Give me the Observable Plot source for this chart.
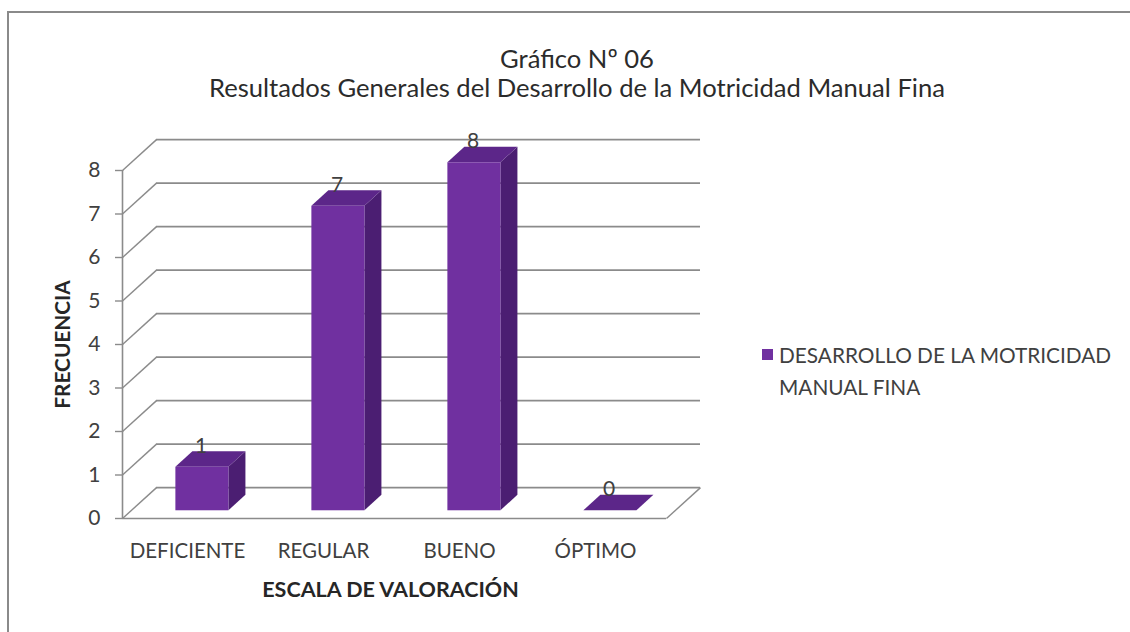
<!DOCTYPE html>
<html>
<head>
<meta charset="utf-8">
<script src="https://cdn.jsdelivr.net/npm/d3@7"></script>
<script src="https://cdn.jsdelivr.net/npm/@observablehq/plot@0.6"></script>
<style>
  html, body { margin: 0; padding: 0; background: #fff; overflow: hidden; }
  #wrap { position: relative; width: 1130px; height: 632px; overflow: hidden; font-family: Lato, "Open Sans", sans-serif; color: #2b2b2b; }
  #frame { position: absolute; left: 7px; top: 11px; width: 1200px; height: 700px; border-top: 2px solid #8a8a8a; border-left: 2px solid #8a8a8a; }
  .title { position: absolute; left: 0; width: 1154px; text-align: center; white-space: nowrap; font-size: 25.6px; line-height: 30px; }
  #t1 { top: 43px; }
  #t2 { top: 72px; }
  #chart { position: absolute; left: 0; top: 120px; }
  #legend { position: absolute; left: 762px; top: 339px; font-size: 20.8px; line-height: 32px; color: #404040; }
  #legend .sw { position: absolute; left: 0; top: 10px; width: 11px; height: 11px; }
  #legend .lt { margin-left: 17px; white-space: nowrap; }
</style>
</head>
<body>
<div id="wrap">
  <div id="frame"></div>
  <div class="title" id="t1"></div>
  <div class="title" id="t2"></div>
  <div id="chart"></div>
  <div id="legend"><div class="sw"></div><div class="lt" id="l1"></div><div class="lt" id="l2"></div></div>
</div>
<script>
// ---- data ----
const categories = ["DEFICIENTE", "REGULAR", "BUENO", "ÓPTIMO"];
const frecuencia = [1, 7, 8, 0];
const yTicks = [0, 1, 2, 3, 4, 5, 6, 7, 8];
const titleLine1 = "Gráfico Nº 06";
const titleLine2 = "Resultados Generales del Desarrollo de la Motricidad Manual Fina";
const yLabel = "FRECUENCIA";
const xLabel = "ESCALA DE VALORACIÓN";
const seriesLine1 = "DESARROLLO DE LA MOTRICIDAD";
const seriesLine2 = "MANUAL FINA";

// ---- style / 3D geometry (in data units) ----
const C_FRONT = "#7030a0", C_SIDE = "#4b1e72", C_TOP = "#5c2689";
const GRID = "#8b8b8b";
const DX = 0.25, DY = 0.71;      // full floor depth offset
const HW = 0.195;                // half bar width
const F0 = 0.25, F1 = 0.75;      // bar front / back depth fractions
const BX = 0.025;                // small perspective shift of bars

document.getElementById("t1").textContent = titleLine1;
document.getElementById("t2").textContent = titleLine2;
document.getElementById("l1").textContent = seriesLine1;
document.getElementById("l2").textContent = seriesLine2;
document.querySelector("#legend .sw").style.background = C_FRONT;

const bars = categories.map((c, i) => ({cat: c, c: i + 0.5 + BX, v: frecuencia[i]}));
const sides = bars.flatMap(b => [F0, F1].map(f => ({cat: b.cat, x: b.c + HW + f * DX, y1: f * DY, y2: b.v + f * DY})));
const tops = bars.flatMap(b => [F0, F1].map(f => ({cat: b.cat, y: b.v + f * DY, x1: b.c - HW + f * DX, x2: b.c + HW + f * DX})));

const plot = Plot.plot({
  width: 1130,
  height: 512,
  marginLeft: 122,
  marginRight: 464,
  marginTop: 50,
  marginBottom: 114,
  style: {fontFamily: "Lato, 'Open Sans', sans-serif", color: "#404040", background: "transparent", overflow: "visible"},
  x: {type: "linear", domain: [0, categories.length], axis: null},
  y: {type: "linear", domain: [0, 8], axis: null},
  marks: [
    // back wall gridlines
    Plot.ruleY(yTicks, {y: d => d + DY, x1: DX, x2: categories.length + DX, stroke: GRID, strokeWidth: 1.6}),
    // left wall diagonals
    Plot.link(yTicks, {x1: 0, y1: d => d, x2: DX, y2: d => d + DY, stroke: GRID, strokeWidth: 1.4}),
    // floor front edge and right edge
    Plot.ruleY([0], {x1: 0, x2: categories.length, stroke: GRID, strokeWidth: 1.6}),
    Plot.link([0], {x1: categories.length, y1: 0, x2: categories.length + DX, y2: DY, stroke: GRID, strokeWidth: 1.4}),
    // front vertical axis line
    Plot.ruleX([0], {y1: 0, y2: 8, stroke: GRID, strokeWidth: 1.6}),
    Plot.axisY(yTicks, {tickSize: 7, tickPadding: 15, fontSize: 21, stroke: GRID, strokeWidth: 1.4, fill: "#404040", label: null}),
    // bars: side faces, top faces, front faces
    Plot.areaY(sides, {x: "x", y1: "y1", y2: "y2", z: "cat", fill: C_SIDE}),
    Plot.areaX(tops, {y: "y", x1: "x1", x2: "x2", z: "cat", fill: C_TOP}),
    Plot.rect(bars, {x1: d => d.c - HW + F0 * DX, x2: d => d.c + HW + F0 * DX, y1: F0 * DY, y2: d => d.v + F0 * DY, fill: C_FRONT}),
    // data labels
    Plot.text(bars, {x: d => d.c + F0 * DX - 0.01, y: d => d.v + F1 * DY, text: d => String(d.v), lineAnchor: "bottom", dy: 1, fontSize: 21, fill: "#404040"}),
    // category axis
    Plot.axisX(categories.map((c, i) => i + 0.5), {tickSize: 0, tickPadding: 25, tickFormat: x => categories[Math.floor(x)], fontSize: 20.5, dx: -3, fill: "#404040", label: null}),
    // axis titles
    Plot.text([yLabel], {x: 0, y: 4, rotate: -90, dx: -59, fontWeight: "bold", fontSize: 20.8, fill: "#262626"}),
    Plot.text([xLabel], {x: categories.length / 2, y: 0, dy: 72, dx: -4, fontWeight: "bold", fontSize: 21.5, fill: "#262626"})
  ]
});
document.getElementById("chart").appendChild(plot);
</script>
</body>
</html>
